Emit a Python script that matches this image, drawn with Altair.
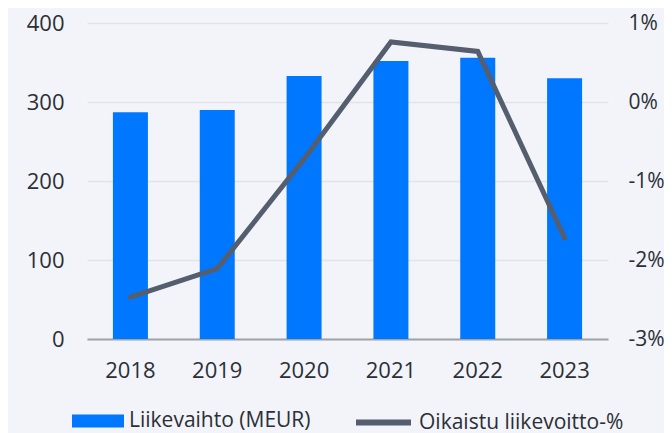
import altair as alt
import pandas as pd

years = ["2018", "2019", "2020", "2021", "2022", "2023"]
revenue = [287, 290, 333, 352, 356, 330]
margin_pct = [-2.47, -2.11, -0.72, 0.76, 0.64, -1.72]
bar_name = "Liikevaihto (MEUR)"
line_name = "Oikaistu liikevoitto-%"

df = pd.DataFrame({
    "year": years,
    "revenue": revenue,
    "margin": margin_pct,
    "s1": [bar_name] * len(years),
    "s2": [line_name] * len(years),
})

FONT = "Open Sans"
TXT = "#2b2f36"
BG = "#f2f4f9"

base = alt.Chart(df).encode(
    x=alt.X("year:N", title=None, sort=years,
            axis=alt.Axis(labelAngle=0, ticks=False, domainColor="#9ea3a9",
                          domainWidth=2, labelPadding=21, labelFontSize=22,
                          labelFont=FONT, labelColor=TXT, grid=False))
)

bars = base.mark_bar(size=35).encode(
    y=alt.Y("revenue:Q", title=None,
            scale=alt.Scale(domain=[0, 400], nice=False),
            axis=alt.Axis(values=[0, 100, 200, 300, 400], domain=False, ticks=False,
                          labelPadding=23, labelFontSize=22, labelFont=FONT,
                          labelColor=TXT, grid=True, gridColor="#e1e3e8",
                          gridWidth=1.5)),
    color=alt.Color("s1:N", scale=alt.Scale(domain=[bar_name], range=["#0077ff"]),
                    legend=alt.Legend(orient="none", legendX=-15, legendY=372,
                                      title=None, padding=0, labelLimit=400,
                                      symbolType="M-1,-0.25L1,-0.25L1,0.25L-1,0.25Z",
                                      symbolSize=2704, symbolStrokeWidth=0,
                                      labelFontSize=21, labelFont=FONT,
                                      labelColor=TXT, labelOffset=5)),
)

line = base.mark_line(strokeWidth=5, strokeCap="round").encode(
    y=alt.Y("margin:Q", title=None,
            scale=alt.Scale(domain=[-3, 1], nice=False),
            axis=alt.Axis(orient="right", values=[-3, -2, -1, 0, 1], domain=False,
                          ticks=False, labelPadding=20, labelFontSize=21,
                          labelFont=FONT, labelColor=TXT, grid=False,
                          labelExpr="datum.value + '%'")),
    color=alt.Color("s2:N", scale=alt.Scale(domain=[line_name], range=["#545e6e"]),
                    legend=alt.Legend(orient="none", legendX=266, legendY=369,
                                      title=None, padding=0, labelLimit=400,
                                      symbolType="stroke",
                                      symbolSize=3025, symbolStrokeWidth=6,
                                      labelFontSize=21, labelFont=FONT,
                                      labelColor=TXT, labelOffset=5)),
)

chart = alt.layer(bars, line).resolve_scale(
    y="independent", color="independent"
).properties(
    width=521, height=316,
    autosize=alt.AutoSizeParams(type="none"),
    padding={"left": 79, "top": 15, "right": 56, "bottom": 94},
    background=BG,
).configure_view(stroke=None)

chart.save("out.html", embed_options={"renderer": "svg", "actions": False})
